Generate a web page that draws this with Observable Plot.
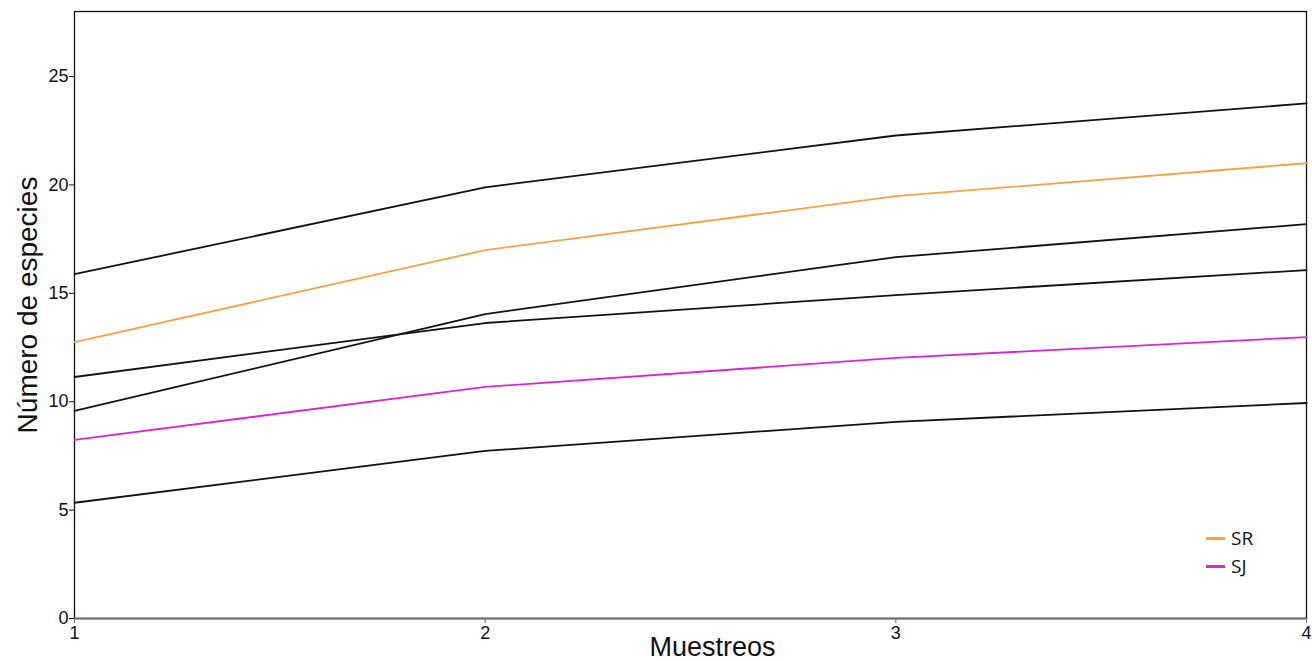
<!DOCTYPE html>
<html>
<head>
<meta charset="utf-8">
<script src="https://cdn.jsdelivr.net/npm/d3@7"></script>
<script src="https://cdn.jsdelivr.net/npm/@observablehq/plot@0.6"></script>
<style>
  html, body { margin: 0; padding: 0; background: #fff; }
  #wrap { position: relative; width: 1312px; height: 661px; font-family: "Liberation Sans", Arial, sans-serif; }
  #legend { position: absolute; left: 1206px; top: 524px; font-family: "Open Sans", "Noto Sans", sans-serif; font-size: 19px; color: #111; line-height: 28px; }
  #legend .item { display: flex; align-items: center; }
  #legend .sw { width: 19px; height: 3px; margin-right: 6px; }
</style>
</head>
<body>
<div id="wrap"><div id="legend"></div></div>
<script>
const muestreos = [1, 2, 3, 4];
const seriesNames = ["A", "SR", "B", "C", "SJ", "D"];
const serieA = [15.88, 19.89, 22.28, 23.76];
const serieSR = [12.75, 16.99, 19.48, 21.0];
const serieB = [9.58, 14.04, 16.67, 18.19];
const serieC = [11.14, 13.63, 14.92, 16.07];
const serieSJ = [8.24, 10.68, 12.02, 12.98];
const serieD = [5.34, 7.73, 9.07, 9.94];
const seriesValues = [serieA, serieSR, serieB, serieC, serieSJ, serieD];
const seriesColors = ["#111111", "#f4a242", "#111111", "#111111", "#d925d3", "#111111"];
const yTicks = [0, 5, 10, 15, 20, 25];
const legendNames = ["SR", "SJ"];

const data = [];
seriesNames.forEach((s, i) => muestreos.forEach((m, j) => data.push({serie: s, muestreo: m, valor: seriesValues[i][j]})));

const chart = Plot.plot({
  width: 1312,
  height: 661,
  marginLeft: 74,
  marginRight: 6,
  marginTop: 11,
  marginBottom: 43,
  style: {fontFamily: "'Liberation Sans', Arial, sans-serif", background: "#fff", color: "#111"},
  x: {domain: [1, 4]},
  y: {domain: [0, 28]},
  color: {domain: seriesNames, range: seriesColors},
  marks: [
    Plot.frame({stroke: "#111", strokeWidth: 1.3}),
    Plot.ruleY([0], {stroke: "#6e6e6e", strokeWidth: 2}),
    Plot.line(data, {x: "muestreo", y: "valor", z: "serie", stroke: "serie", strokeWidth: 1.8}),
    Plot.axisY({ticks: yTicks, tickSize: 5, tickPadding: 1, fontSize: 18, label: null, tickFormat: d => d}),
    Plot.axisX({ticks: muestreos, tickSize: 5, tickPadding: 3, fontSize: 18, label: null, tickFormat: d => d, stroke: "#6e6e6e"}),
    Plot.text(["Muestreos"], {frameAnchor: "bottom", lineAnchor: "bottom", dx: 22, dy: 37, fontSize: 27, fill: "#111"}),
    Plot.text(["Número de especies"], {frameAnchor: "left", textAnchor: "middle", dx: -46, dy: -10, rotate: -90, fontSize: 28, fill: "#111"})
  ]
});
document.getElementById("wrap").prepend(chart);

const legend = document.getElementById("legend");
legendNames.forEach(n => {
  const idx = seriesNames.indexOf(n);
  const item = document.createElement("div");
  item.className = "item";
  item.innerHTML = `<span class="sw" style="background:${seriesColors[idx]}"></span><span>${n}</span>`;
  legend.appendChild(item);
});
</script>
</body>
</html>
